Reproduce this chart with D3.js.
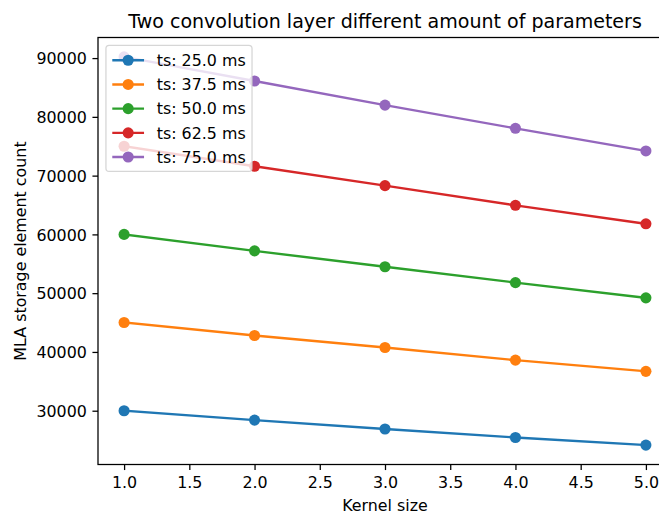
<!DOCTYPE html>
<html>
<head>
<meta charset="utf-8">
<script src="https://cdn.jsdelivr.net/npm/d3@7"></script>
<style>
  html, body { margin: 0; padding: 0; background: #ffffff; }
  svg { display: block; font-family: "DejaVu Sans", sans-serif; }
</style>
</head>
<body>
<svg id="chart" width="659" height="514"></svg>
<script>
// Kernel sizes on the x axis
const kernelSizes = [1, 2, 3, 4, 5];

// MLA storage element count per sampling period
const ts25 = [30000, 28400, 26880, 25450, 24150];
const ts375 = [45000, 42800, 40750, 38600, 36700];
const ts50 = [60000, 57200, 54500, 51800, 49200];
const ts625 = [75000, 71600, 68300, 64950, 61800];
const ts75 = [90200, 86100, 82000, 78050, 74200];

const seriesLabels = ["ts: 25.0 ms", "ts: 37.5 ms", "ts: 50.0 ms", "ts: 62.5 ms", "ts: 75.0 ms"];
const seriesColors = ["#1f77b4", "#ff7f0e", "#2ca02c", "#d62728", "#9467bd"];

const xTickValues = [1.0, 1.5, 2.0, 2.5, 3.0, 3.5, 4.0, 4.5, 5.0];
const yTickValues = [30000, 40000, 50000, 60000, 70000, 80000, 90000];

const titleText = "Two convolution layer different amount of parameters";
const xLabelText = "Kernel size";
const yLabelText = "MLA storage element count";

const series = [ts25, ts375, ts50, ts625, ts75].map((vals, i) => ({
  label: seriesLabels[i],
  color: seriesColors[i],
  points: vals.map((v, j) => ({ x: kernelSizes[j], y: v }))
}));

// Layout (points scaled to pixels)
const PT = 1.5875;
const fs = 10 * PT;           // tick / label / legend font size
const titleFs = 12 * PT;
const tickLen = 3.5 * PT;
const tickPad = 3.5 * PT;
const lineW = 1.5 * PT;
const markerR = 3.5 * PT;     // 6pt marker plus 1pt edge
const spineW = 0.8 * PT;

const plot = { left: 98, right: 672, top: 37.5, bottom: 464.5 };

const svg = d3.select("#chart");

// Scales with 5% margins around the data range
const xMin = d3.min(kernelSizes), xMax = d3.max(kernelSizes);
const xPad = (xMax - xMin) * 0.05;
const x = d3.scaleLinear().domain([xMin - xPad, xMax + xPad]).range([plot.left, plot.right]);

const allY = series.flatMap(s => s.points.map(p => p.y));
const yMin = d3.min(allY), yMax = d3.max(allY);
const yPad = (yMax - yMin) * 0.05;
const y = d3.scaleLinear().domain([yMin - yPad, yMax + yPad]).range([plot.bottom, plot.top]);

// Series lines and markers
const line = d3.line().x(d => x(d.x)).y(d => y(d.y));
const gSeries = svg.append("g");
series.forEach(s => {
  gSeries.append("path")
    .datum(s.points)
    .attr("d", line)
    .attr("fill", "none")
    .attr("stroke", s.color)
    .attr("stroke-width", lineW)
    .attr("stroke-linejoin", "round")
    .attr("stroke-linecap", "square");
  gSeries.selectAll(null)
    .data(s.points)
    .enter()
    .append("circle")
    .attr("cx", d => x(d.x))
    .attr("cy", d => y(d.y))
    .attr("r", markerR)
    .attr("fill", s.color);
});

// Axes
const xAxis = d3.axisBottom(x)
  .tickValues(xTickValues)
  .tickFormat(d3.format(".1f"))
  .tickSize(tickLen)
  .tickPadding(tickPad);
const gx = svg.append("g")
  .attr("transform", `translate(0,${plot.bottom})`)
  .call(xAxis);

const yAxis = d3.axisLeft(y)
  .tickValues(yTickValues)
  .tickFormat(d3.format("d"))
  .tickSize(tickLen)
  .tickPadding(tickPad);
const gy = svg.append("g")
  .attr("transform", `translate(${plot.left},0)`)
  .call(yAxis);

[gx, gy].forEach(g => {
  g.select(".domain").remove();
  g.selectAll(".tick line").attr("stroke", "#000").attr("stroke-width", spineW);
  g.selectAll(".tick text")
    .attr("fill", "#000")
    .style("font-family", "'DejaVu Sans', sans-serif")
    .style("font-size", fs + "px");
});
gx.selectAll(".tick text").attr("dy", null).attr("y", tickLen + tickPad + 0.76 * fs);
gy.selectAll(".tick text").attr("dy", "0.36em");

// Spines
const spines = svg.append("g")
  .attr("stroke", "#000")
  .attr("stroke-width", spineW)
  .attr("fill", "none");
spines.append("rect")
  .attr("x", plot.left)
  .attr("y", plot.top)
  .attr("width", plot.right - plot.left)
  .attr("height", plot.bottom - plot.top);

// Title and axis labels
svg.append("text")
  .attr("x", (plot.left + plot.right) / 2)
  .attr("y", plot.top - 6 * PT)
  .attr("text-anchor", "middle")
  .attr("fill", "#000")
  .style("font-size", titleFs + "px")
  .text(titleText);

svg.append("text")
  .attr("x", (plot.left + plot.right) / 2)
  .attr("y", 511)
  .attr("text-anchor", "middle")
  .attr("fill", "#000")
  .style("font-size", fs + "px")
  .text(xLabelText);

svg.append("text")
  .attr("transform", `translate(26,${(plot.top + plot.bottom) / 2}) rotate(-90)`)
  .attr("text-anchor", "middle")
  .attr("fill", "#000")
  .style("font-size", fs + "px")
  .text(yLabelText);

// Legend (upper left)
const lg = {
  x: plot.left + 0.5 * fs,
  y: plot.top + 0.5 * fs,
  pad: 0.4 * fs,
  handle: 2.0 * fs,
  textPad: 0.8 * fs,
  rowH: 24.2,
  firstRow: 14.8
};
const gLegend = svg.append("g");
const frame = gLegend.append("rect")
  .attr("x", lg.x)
  .attr("y", lg.y)
  .attr("rx", 0.2 * fs)
  .attr("ry", 0.2 * fs)
  .attr("fill", "#ffffff")
  .attr("fill-opacity", 0.8)
  .attr("stroke", "#cccccc")
  .attr("stroke-opacity", 0.8)
  .attr("stroke-width", spineW);

let maxTextW = 0;
series.forEach((s, i) => {
  const cy = lg.y + lg.firstRow + i * lg.rowH;
  const hx0 = lg.x + lg.pad;
  const hx1 = hx0 + lg.handle;
  gLegend.append("line")
    .attr("x1", hx0).attr("x2", hx1)
    .attr("y1", cy).attr("y2", cy)
    .attr("stroke", s.color)
    .attr("stroke-width", lineW);
  gLegend.append("circle")
    .attr("cx", (hx0 + hx1) / 2)
    .attr("cy", cy)
    .attr("r", markerR)
    .attr("fill", s.color);
  const t = gLegend.append("text")
    .attr("x", hx1 + lg.textPad)
    .attr("y", cy)
    .attr("dy", "0.36em")
    .attr("fill", "#000")
    .style("font-size", fs + "px")
    .text(s.label);
  maxTextW = Math.max(maxTextW, t.node().getComputedTextLength());
});
const legendW = lg.pad + lg.handle + lg.textPad + maxTextW + lg.pad;
const legendH = lg.firstRow * 2 + (series.length - 1) * lg.rowH - 0.5;
frame.attr("width", legendW).attr("height", legendH);
</script>
</body>
</html>
